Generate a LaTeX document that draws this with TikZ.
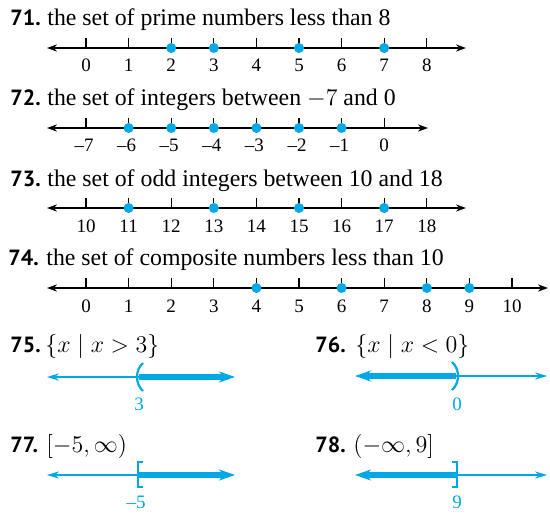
\documentclass[tikz,border=0pt]{standalone}
\usepackage{fontspec}
\setmainfont{Liberation Serif}
\newfontfamily\exfont{PT Sans}
\usetikzlibrary{arrows.meta}
\definecolor{setblue}{RGB}{0,169,230}
\tikzset{
  axisline/.style={line width=0.65pt,
    {Stealth[length=5pt,width=3.6pt,inset=1.6pt]}-{Stealth[length=5pt,width=3.6pt,inset=1.6pt]}},
  tickmark/.style={line width=0.6pt},
  ticklabel/.style={anchor=base, inner sep=0pt, font=\fontsize{9.5}{10}\selectfont},
  setdot/.style={circle, fill=setblue, inner sep=0pt, minimum size=5pt},
  exnum/.style={anchor=base west, inner sep=0pt, font=\exfont\bfseries\fontsize{11}{12}\selectfont},
  extext/.style={anchor=base west, inner sep=0pt, font=\fontsize{11.9}{13}\selectfont},
  thinray/.style={setblue, line width=0.65pt, -{Stealth[length=6pt,width=3.6pt,inset=2pt]}},
  thickray/.style={setblue, line width=2.6pt, -{Stealth[length=8pt,width=5.5pt,inset=2.5pt]}},
  endmark/.style={setblue, line width=1.1pt},
  bluelabel/.style={anchor=base, inner sep=0pt, text=setblue, font=\fontsize{9.5}{10}\selectfont}
}
\begin{document}
\begin{tikzpicture}[x=0.5pt, y=-0.5pt]
  \useasboundingbox (0,0) rectangle (550,513);

  % 71
  \node[exnum] (n71) at (10,26) {71.};
  \node[extext] (t71) at (47,26) {the set of prime numbers less than 8};
  \coordinate (l71) at (47,48);
  \coordinate (r71) at (466,48);
  \draw[axisline] (l71) -- (r71);
  \foreach \n in {0,...,8} {
    \draw[tickmark] ({86+42.6*\n},48) -- ++(0,-10);
    \node[ticklabel] (k71-\n) at ({86+42.6*\n},72) {\n};
  }
  \foreach \n in {2,3,5,7}
    \node[setdot] (d71-\n) at ({86+42.6*\n},48) {};

  % 72
  \node[exnum] (n72) at (10,106) {72.};
  \node[extext] (t72) at (47,106) {the set of integers between $-7$ and 0};
  \coordinate (l72) at (47,128);
  \coordinate (r72) at (428,128);
  \draw[axisline] (l72) -- (r72);
  \foreach \n in {0,...,7} {
    \draw[tickmark] ({86+42.6*\n},128) -- ++(0,-10);
  }
  \foreach \n/\v in {0/7,1/6,2/5,3/4,4/3,5/2,6/1}
    \node[ticklabel] (k72-\v) at ({84+42.6*\n},152) {--\v};
  \node[ticklabel] (k72-0) at ({86+42.6*7},152) {0};
  \foreach \n in {1,...,6}
    \node[setdot] (d72-\n) at ({86+42.6*\n},128) {};

  % 73
  \node[exnum] (n73) at (10,186) {73.};
  \node[extext] (t73) at (47,186) {the set of odd integers between 10 and 18};
  \coordinate (l73) at (47,208);
  \coordinate (r73) at (466,208);
  \draw[axisline] (l73) -- (r73);
  \foreach \n in {0,...,8} {
    \draw[tickmark] ({86+42.6*\n},208) -- ++(0,-10);
    \pgfmathtruncatemacro\v{10+\n}
    \node[ticklabel] (k73-\v) at ({86+42.6*\n},232) {\v};
  }
  \foreach \n in {1,3,5,7}
    \node[setdot] (d73-\n) at ({86+42.6*\n},208) {};

  % 74
  \node[exnum] (n74) at (8,265) {74.};
  \node[extext] (t74) at (46,265) {the set of composite numbers less than 10};
  \coordinate (l74) at (47,288);
  \coordinate (r74) at (548,288);
  \draw[axisline] (l74) -- (r74);
  \foreach \n in {0,...,10} {
    \draw[tickmark] ({86+42.6*\n},288) -- ++(0,-10);
    \node[ticklabel] (k74-\n) at ({86+42.6*\n},312) {\n};
  }
  \foreach \n in {4,6,8,9}
    \node[setdot] (d74-\n) at ({86+42.6*\n},288) {};

  % 75
  \node[exnum] (n75) at (10,352) {75.};
  \node[extext] (t75) at (45,352) {$\{x \mid x > 3\}$};
  \coordinate (l75) at (47,377);
  \coordinate (m75) at (139,377);
  \coordinate (r75) at (235,377);
  \draw[thinray] (m75) -- (l75);
  \draw[thickray] (m75) -- (r75);
  \draw[endmark] (143,363) .. controls (135,370) and (135,384) .. (143,391);
  \node[bluelabel] (v75) at (139,410) {3};

  % 76
  \node[exnum] (n76) at (315,352) {76.};
  \node[extext] (t76) at (355,352) {$\{x \mid x < 0\}$};
  \coordinate (l76) at (355,376);
  \coordinate (m76) at (456,376);
  \coordinate (r76) at (547,376);
  \draw[thickray] (m76) -- (l76);
  \draw[thinray] (m76) -- (r76);
  \draw[endmark] (452,362) .. controls (460,369) and (460,383) .. (452,390);
  \node[bluelabel] (v76) at (457,410) {0};

  % 77
  \node[exnum] (n77) at (10,452) {77.};
  \node[extext] (t77) at (46,452) {$[-5, \infty)$};
  \coordinate (l77) at (47,475);
  \coordinate (m77) at (138,475);
  \coordinate (r77) at (235,475);
  \draw[thinray] (m77) -- (l77);
  \draw[thickray] (m77) -- (r77);
  \draw[endmark] (143,462) -- (138,462) -- (138,487) -- (143,487);
  \node[bluelabel] (v77) at (136,508) {--5};

  % 78
  \node[exnum] (n78) at (315,452) {78.};
  \node[extext] (t78) at (353,452) {$(-\infty, 9]$};
  \coordinate (l78) at (355,475);
  \coordinate (m78) at (457,475);
  \coordinate (r78) at (547,475);
  \draw[thickray] (m78) -- (l78);
  \draw[thinray] (m78) -- (r78);
  \draw[endmark] (452,462) -- (457,462) -- (457,487) -- (452,487);
  \node[bluelabel] (v78) at (457,508) {9};
\end{tikzpicture}
\end{document}
